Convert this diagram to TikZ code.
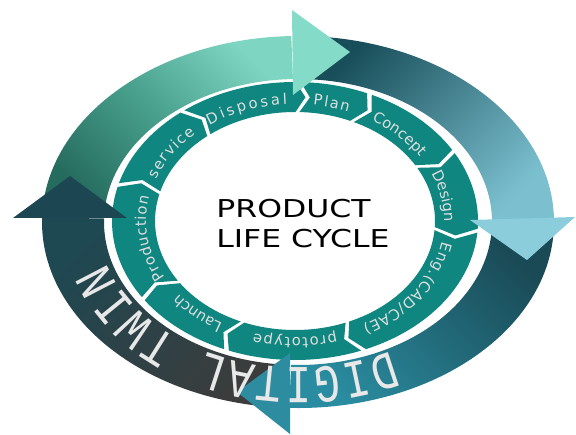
\documentclass[tikz,border=0pt]{standalone}
\usepackage{fontspec}
\usepackage{tikz}
\usetikzlibrary{decorations.text}
\newfontfamily\titlefamily[FakeStretch=1.28]{DejaVu Sans}
\newfontfamily\segfamily{DejaVu Sans}
\newfontfamily\twinfamily[FakeStretch=0.8]{Liberation Mono}
\newcommand\seglabelfont{\segfamily\fontsize{10.5}{12}\selectfont}
\newcommand\twinlabelfont{\twinfamily\fontsize{38}{40}\selectfont}
\definecolor{segteal}{RGB}{15,135,128}
\definecolor{labgrey}{RGB}{222,222,222}
\definecolor{twingrey}{RGB}{232,232,232}
\definecolor{mintdark}{RGB}{38,108,94}
\definecolor{mintmid}{RGB}{72,160,140}
\definecolor{mintlight}{RGB}{126,214,194}
\definecolor{minthead}{RGB}{132,220,200}
\definecolor{skydark}{RGB}{24,78,90}
\definecolor{skylight}{RGB}{124,192,208}
\definecolor{skyhead}{RGB}{140,205,220}
\definecolor{petroldark}{RGB}{26,74,86}
\definecolor{petrollight}{RGB}{42,140,160}
\definecolor{petrolhead}{RGB}{45,140,160}
\definecolor{slategrey}{RGB}{60,60,60}
\definecolor{slateteal}{RGB}{30,72,82}
\definecolor{slatehead}{RGB}{28,70,82}
\tikzset{
    segment/.style={fill=segteal},
    segout/.style={x radius=183, y radius=139},
    segin/.style={x radius=140, y radius=109},
    labarc/.style={x radius=149, y radius=117},
    ringout/.style={x radius=256, y radius=186},
    ringin/.style={x radius=194, y radius=143},
    shaft/.style n args={3}{bottom color=#1, top color=#2, shading angle=#3},
    seglabel/.style={decorate, decoration={text along path,
        text={|\seglabelfont|#1}, text align={fit to path}, text color=labgrey}},
    titletext/.style={font=\titlefamily\fontsize{17.5}{21.3}\selectfont,
        align=left, inner sep=0pt},
}

\begin{document}
\begin{tikzpicture}[x=0.025cm, y=0.025cm]
    \useasboundingbox (0,0) rectangle (576,434);

    % inner ring of chevrons
    \begin{scope}[shift={(295,213)}]
        \foreach \a/\b [evaluate=\a as \sa using \a-0.8, evaluate=\a as \sn using \a-4.3,
                        evaluate=\b as \eb using \b+0.8, evaluate=\b as \et using \b-2.7]
            in {89/66, 66/30, 30/-4, -4/-68, -68/-112, -112/-146, -146/-195, -195/-232, -232/-271}{
            \fill[segment] (\sa:183 and 139) arc[segout, start angle=\sa, end angle=\eb]
                -- (\et:161.5 and 124) -- (\eb:140 and 109)
                arc[segin, start angle=\eb, end angle=\sa]
                -- (\sn:161.5 and 124) -- cycle;
        }
        \path[seglabel=Plan] (83:149 and 117) arc[labarc, start angle=83, end angle=69];
        \path[seglabel=Concept] (59:149 and 117) arc[labarc, start angle=59, end angle=33];
        \path[seglabel=Design] (24:149 and 117) arc[labarc, start angle=24, end angle=0.5];
        \path[seglabel={Eng.(CAD/CAE)}] (-10:149 and 117) arc[labarc, start angle=-10, end angle=-63];
        \path[seglabel=prototype] (-74:149 and 117) arc[labarc, start angle=-74, end angle=-106];
        \path[seglabel=Launch] (-119:149 and 117) arc[labarc, start angle=-119, end angle=-140];
        \path[seglabel=Production] (-151:149 and 117) arc[labarc, start angle=-151, end angle=-192];
        \path[seglabel=service] (-201:149 and 117) arc[labarc, start angle=-201, end angle=-228];
        \path[seglabel=Disposal] (-235:149 and 117) arc[labarc, start angle=-235, end angle=-267];
    \end{scope}

    % outer ring: shafts first, then the heads over the next tail
    \begin{scope}[shift={(298,212)}]
        \shade[shaft={mintdark}{mintlight}{-45}, middle color=mintmid] (178:256 and 186)
            arc[ringout, start angle=178, end angle=91.5]
            -- (91.5:194 and 143) arc[ringin, start angle=91.5, end angle=178] -- cycle;
        \shade[shaft={skydark}{skylight}{-135}] (88:256 and 186) arc[ringout, start angle=88, end angle=0]
            -- (0:194 and 143) arc[ringin, start angle=0, end angle=88] -- cycle;
        \shade[shaft={petroldark}{petrollight}{135}] (-3:256 and 186) arc[ringout, start angle=-3, end angle=-92]
            -- (-92:194 and 143) arc[ringin, start angle=-92, end angle=-3] -- cycle;
        \shade[shaft={slategrey}{slateteal}{45}] (-94:256 and 186) arc[ringout, start angle=-94, end angle=-181.4]
            -- (-181.4:194 and 143) arc[ringin, start angle=-181.4, end angle=-94] -- cycle;

        \fill[minthead] (-6,212) -- (52,170) -- (-5,127) -- cycle;
        \fill[skyhead] (172,2) -- (277,5) -- (229,-38) -- cycle;
        \fill[petrolhead] (-8,-131) -- (-61,-170) -- (-8,-212) -- cycle;
        \fill[slatehead] (-285,4) -- (-228,46) -- (-171,4) -- cycle;

        \path[decorate, decoration={text along path, text={|\twinlabelfont|DIGITAL TWIN},
                text align={fit to path}, text color=twingrey}]
            (-62:199 and 146) arc[start angle=-62, end angle=-164, x radius=199, y radius=146];
    \end{scope}

    \node[titletext] (title) at (303,210) {PRODUCT\\LIFE CYCLE};
\end{tikzpicture}
\end{document}
